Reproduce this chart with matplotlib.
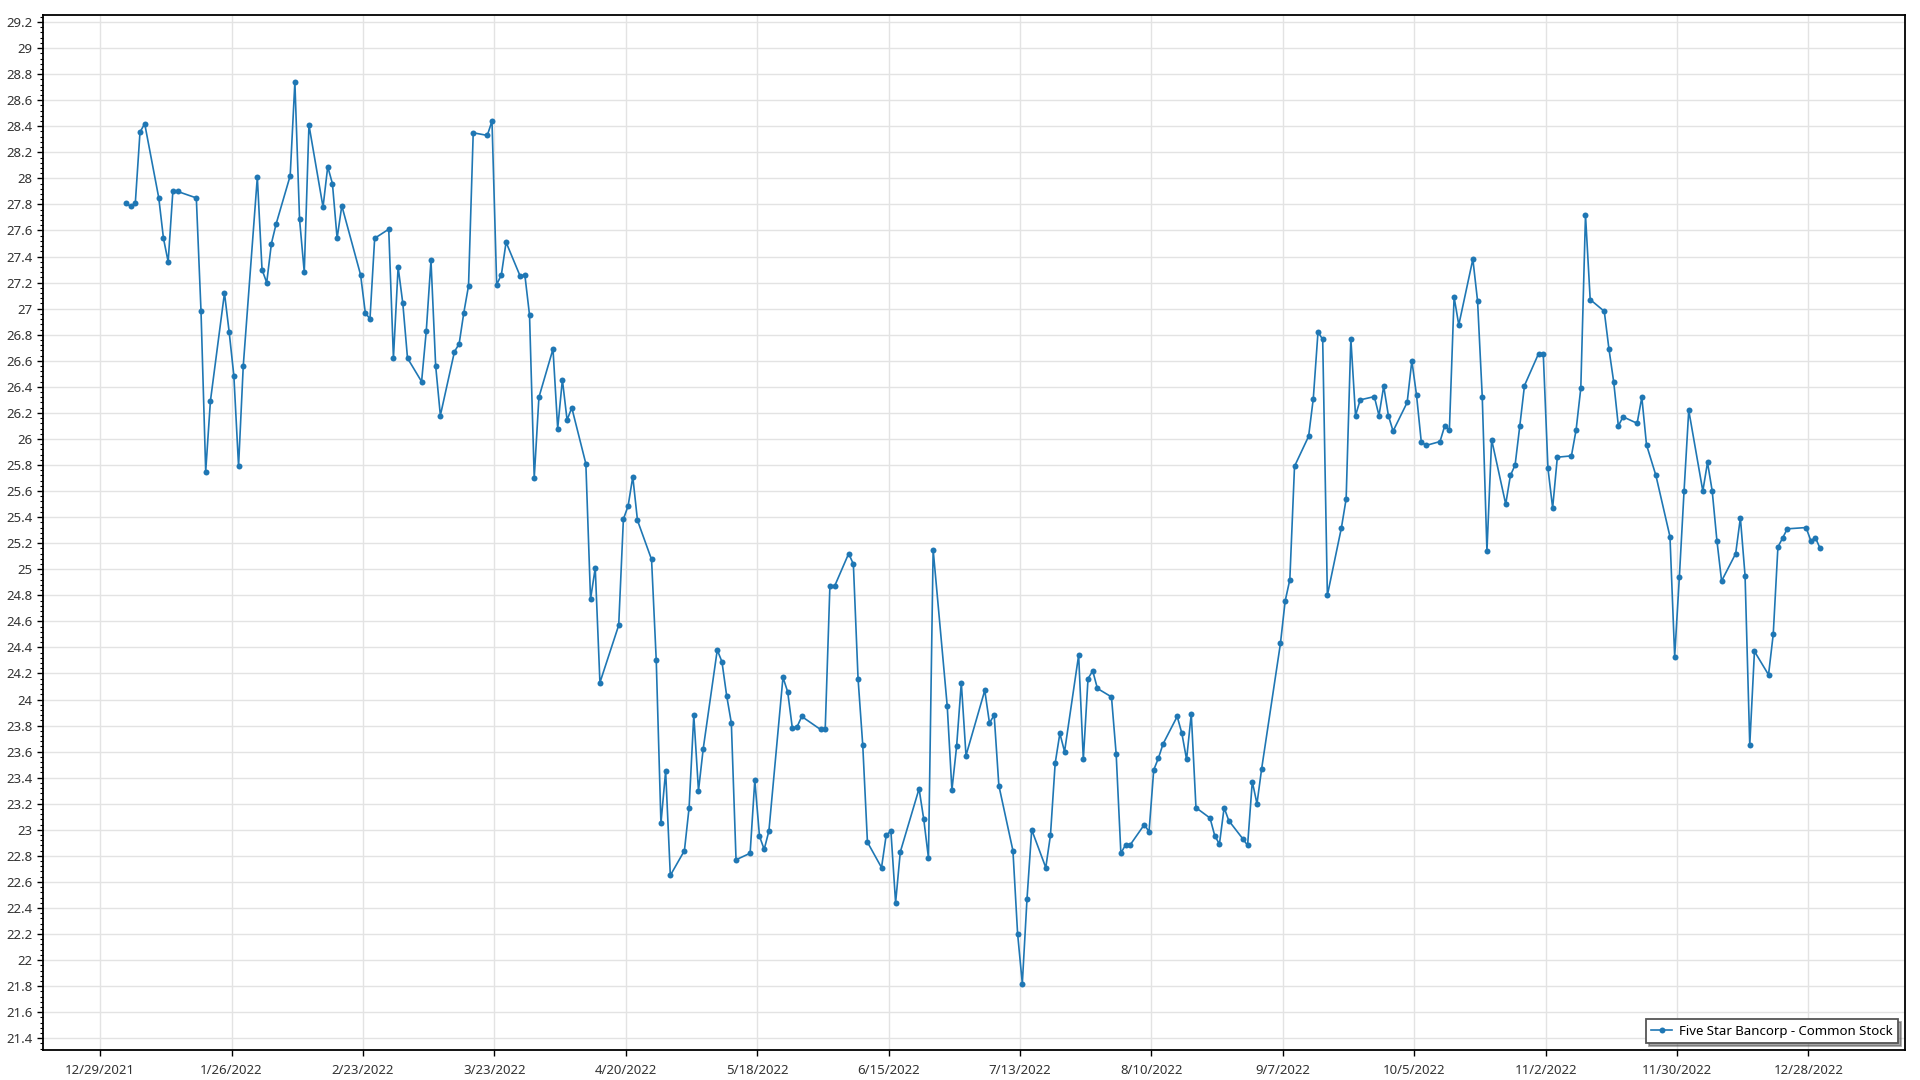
import matplotlib
matplotlib.use("Agg")
import matplotlib.pyplot as plt
import matplotlib.dates as mdates
from matplotlib.ticker import MultipleLocator, FuncFormatter, AutoMinorLocator
import pandas as pd
import datetime as dt

plt.rcParams['font.family'] = ['Noto Sans', 'DejaVu Sans']

series_name = "Five Star Bancorp - Common Stock"
holidays_2022 = ["2022-01-17", "2022-02-21", "2022-04-15", "2022-05-30", "2022-06-20",
                 "2022-07-04", "2022-09-05", "2022-11-24", "2022-12-26"]

jan = [27.81, 27.785, 27.81, 28.355, 28.42, 27.85, 27.54, 27.36, 27.90, 27.90,
       27.85, 26.98, 25.75, 26.29, 27.12, 26.82, 26.485, 25.79, 26.56, 28.01]
feb = [27.30, 27.20, 27.50, 27.65, 28.02, 28.74, 27.685, 27.28, 28.41, 27.78,
       28.09, 27.96, 27.54, 27.79, 27.26, 26.97, 26.92, 27.54, 27.61]
mar = [26.62, 27.32, 27.04, 26.62, 26.44, 26.83, 27.37, 26.56, 26.18, 26.67,
       26.73, 26.97, 27.175, 28.35, 28.33, 28.44, 27.185, 27.26, 27.51, 27.25,
       27.26, 26.95, 25.70]
apr = [26.32, 26.69, 26.08, 26.455, 26.145, 26.24, 25.81, 24.77, 25.01, 24.13,
       24.57, 25.385, 25.485, 25.71, 25.375, 25.075, 24.30, 23.05, 23.45, 22.65]
may = [22.84, 23.17, 23.88, 23.30, 23.62, 24.38, 24.29, 24.03, 23.82, 22.77,
       22.82, 23.38, 22.95, 22.85, 22.99, 24.17, 24.06, 23.78, 23.79, 23.87, 23.77]
jun = [23.77, 24.87, 24.87, 25.12, 25.04, 24.16, 23.65, 22.905, 22.71, 22.96,
       22.99, 22.44, 22.83, 23.315, 23.08, 22.785, 25.15, 23.95, 23.305, 23.64, 24.13]
jul = [23.57, 24.07, 23.82, 23.88, 23.34, 22.84, 22.20, 21.82, 22.47, 23.00,
       22.71, 22.96, 23.51, 23.74, 23.60, 24.34, 23.54, 24.16, 24.22, 24.085]
aug = [24.02, 23.58, 22.82, 22.885, 22.885, 23.04, 22.985, 23.46, 23.55, 23.66,
       23.87, 23.74, 23.54, 23.89, 23.17, 23.09, 22.955, 22.89, 23.17, 23.07,
       22.93, 22.88, 23.37]
sep = [23.20, 23.47, 24.43, 24.755, 24.92, 25.79, 26.02, 26.31, 26.82, 26.765,
       24.80, 25.32, 25.54, 26.77, 26.18, 26.30, 26.325, 26.18, 26.405, 26.18, 26.06]
oct_ = [26.28, 26.60, 26.335, 25.98, 25.95, 25.98, 26.10, 26.07, 27.09, 26.875,
        27.38, 27.06, 26.325, 25.14, 25.995, 25.50, 25.72, 25.80, 26.10, 26.41, 26.655]
nov = [26.655, 25.775, 25.47, 25.86, 25.87, 26.07, 26.39, 27.72, 27.07, 26.98,
       26.69, 26.44, 26.10, 26.17, 26.12, 26.32, 25.955, 25.72, 25.25, 24.33, 24.94]
dec = [25.60, 26.22, 25.60, 25.82, 25.60, 25.22, 24.91, 25.12, 25.395, 24.95,
       23.65, 24.37, 24.19, 24.50, 25.17, 25.24, 25.31, 25.32, 25.22, 25.24, 25.16]

prices = jan + feb + mar + apr + may + jun + jul + aug + sep + oct_ + nov + dec
dates = pd.bdate_range("2022-01-03", "2022-12-30", freq="C", holidays=holidays_2022)
dates = dates + pd.Timedelta(hours=12)

tick_dates = pd.date_range("2021-12-29", "2022-12-28", freq="28D")

fig = plt.figure(figsize=(19.2, 10.8), dpi=100)
ax = fig.add_axes([0.0224, 0.0278, 0.9698, 0.9583])

ax.plot(dates, prices, color="#1f77b4", lw=1.2, marker="o", markersize=4.3,
        markeredgewidth=0, label=series_name)

ax.set_xlim(dt.datetime(2021, 12, 16, 20), dt.datetime(2023, 1, 17, 14))
ax.set_ylim(21.31, 29.254)

ax.set_xticks(tick_dates)
ax.xaxis.set_major_formatter(FuncFormatter(
    lambda v, p: (lambda d: f"{d.month}/{d.day}/{d.year}")(mdates.num2date(v))))
ax.yaxis.set_major_locator(MultipleLocator(0.2))
ax.yaxis.set_minor_locator(AutoMinorLocator(5))
ax.yaxis.set_major_formatter(FuncFormatter(lambda v, p: f"{round(v, 2):g}"))

ax.grid(True, which="major", color="#e3e3e3", lw=1)
ax.set_axisbelow(True)
for s in ax.spines.values():
    s.set_color("black")
    s.set_linewidth(1.3)

ax.tick_params(axis="both", which="major", labelsize=9.5, colors="black",
               labelcolor="#333333", length=4, width=1)
ax.tick_params(axis="y", which="minor", length=2, width=0.8)
ax.tick_params(axis="x", pad=6)

leg = ax.legend(loc="lower right", frameon=True, fancybox=False, shadow=True,
                fontsize=9.5, numpoints=1, borderpad=0.4, handlelength=1.6,
                handletextpad=0.5, borderaxespad=0,
                bbox_to_anchor=(0.9962, 0.0068))
leg.get_frame().set_edgecolor("#555555")
leg.get_frame().set_linewidth(1.3)

fig.savefig("out.png", dpi=100)
